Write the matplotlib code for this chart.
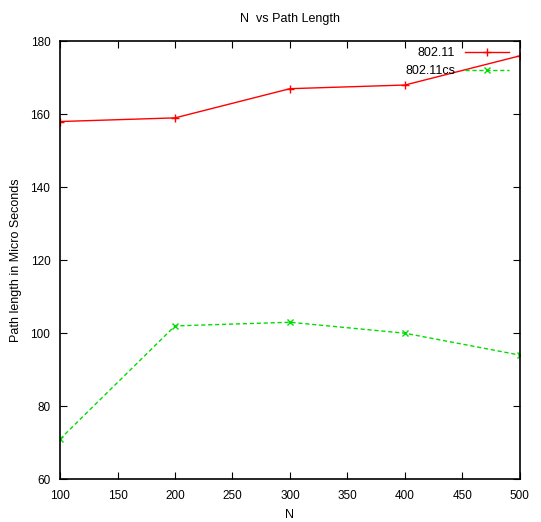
import matplotlib
matplotlib.use('Agg')
import matplotlib.pyplot as plt

plt.rcParams['font.family'] = ['Liberation Sans', 'DejaVu Sans']

# Data
n_values = [100, 200, 300, 400, 500]
path_80211 = [158, 159, 167, 168, 176]
path_80211cs = [71, 102, 103, 100, 94]

fig = plt.figure(figsize=(5.41, 5.22), dpi=100)
ax = fig.add_axes([0.111, 0.082, 0.850, 0.839])

ax.plot(n_values, path_80211, color='red', linewidth=1, marker='+',
        markersize=6, label='802.11')
ax.plot(n_values, path_80211cs, color='#00dd00', linewidth=1, linestyle='--',
        dashes=(3, 2), marker='x', markersize=5, label='802.11cs')

ax.set_xlim(100, 500)
ax.set_ylim(60, 180)
ax.set_xticks(range(100, 501, 50))
ax.set_yticks(range(60, 181, 20))
ax.tick_params(direction='in', top=True, right=True, labelsize=8.5, length=5)
ax.tick_params(axis='x', pad=8)
ax.tick_params(axis='y', pad=7)

for s in ax.spines.values():
    s.set_linewidth(1.2)

ax.set_title('N  vs Path Length', fontsize=9, pad=14)
ax.set_xlabel('N', fontsize=9, labelpad=5)
ax.set_ylabel('Path length in Micro Seconds', fontsize=9, labelpad=6)

ax.legend(loc='upper right', frameon=False, markerfirst=False, fontsize=9,
          handlelength=3.5, borderaxespad=0.1, labelspacing=0.45,
          bbox_to_anchor=(0.99, 1.0))

fig.savefig('out.png', dpi=100)
